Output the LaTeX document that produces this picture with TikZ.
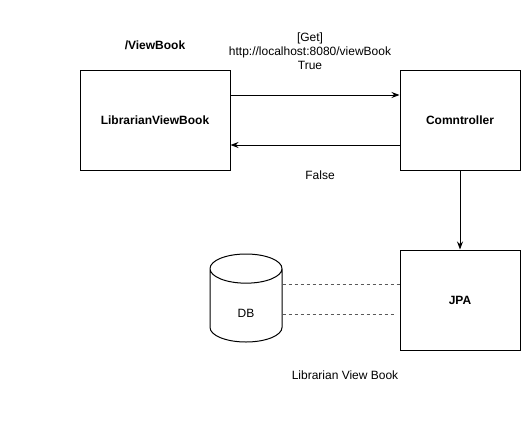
\documentclass[tikz,border=0pt]{standalone}
\usepackage{fontspec}
\setmainfont{Liberation Sans}
\usetikzlibrary{arrows.meta,shapes.geometric}

\begin{document}
\begin{tikzpicture}[x=1pt,y=-1pt]
    \tikzset{
    txt/.style={font=\fontsize{12pt}{14pt}\selectfont,inner sep=0pt,align=center},
    blk/.style={txt,rectangle,draw,line width=1pt,font=\fontsize{12pt}{14pt}\selectfont\bfseries},
    store/.style={txt,cylinder,shape border rotate=90,draw,line width=1pt,aspect=1.75,minimum width=72pt,minimum height=88pt},
    c1/.style={-{Stealth[length=8pt,width=6pt]},line width=1pt},
    c2/.style={dashed,gray!70!black,line width=1pt},
    }
    \useasboundingbox (0,0) rectangle (521,420);

    \node[blk,minimum width=150pt,minimum height=100pt] (view) at (155,120) {LibrarianViewBook};
    \node[blk,minimum width=120pt,minimum height=100pt] (ctrl) at (460,120) {Comntroller};
    \node[blk,minimum width=120pt,minimum height=100pt] (jpa) at (460,300) {JPA};
    \node[store,anchor=shape center] (db) at (246,298) {\phantom{DB}};
    \node[txt] (dbname) at (246,313) {DB};

    \node[txt,font=\fontsize{12pt}{14pt}\selectfont\bfseries] (route) at (155,45) {/ViewBook};
    \node[txt] (req) at (310,51) {[Get]\\http://localhost:8080/viewBook\\True};
    \node[txt] (no) at (320,175) {False};
    \node[txt] (title) at (345,375) {Librarian View Book};

    \draw[c1] (view.east |- 0,95) -- (ctrl.west |- 0,95);
    \draw[c1] (ctrl.west |- 0,145) -- (view.east |- 0,145);
    \draw[c1] (ctrl) -- (jpa);
    \draw[c2] (db.east |- 0,284) -- (jpa.west |- 0,284);
    \draw[c2] (db.east |- 0,314) -- ([xshift=-3pt]jpa.west |- 0,314);

\end{tikzpicture}
\end{document}
